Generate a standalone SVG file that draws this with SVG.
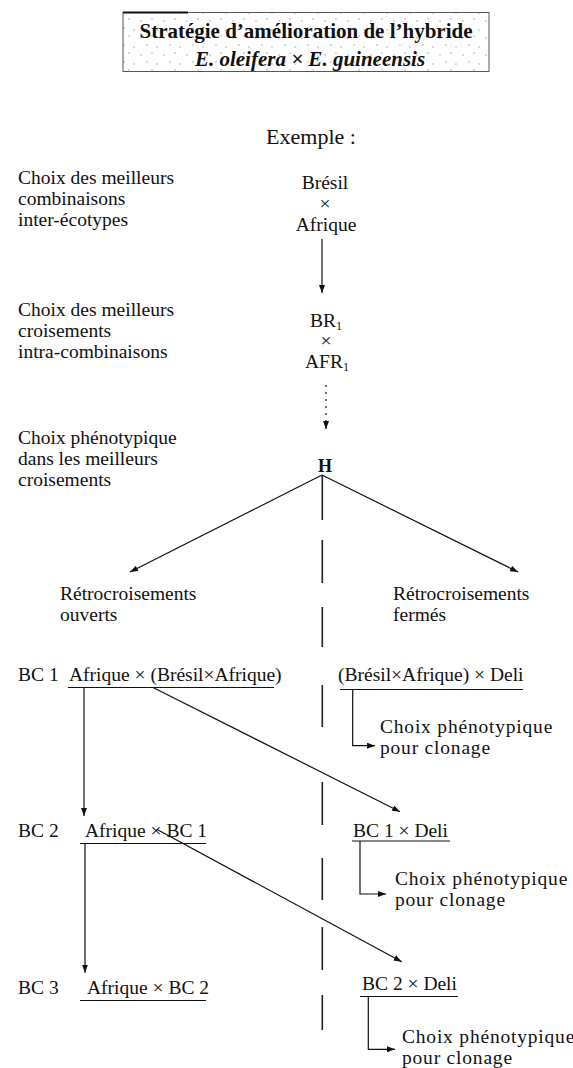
<svg xmlns="http://www.w3.org/2000/svg" width="573" height="1068" viewBox="0 0 573 1068">
<style>
text{font-family:"Liberation Serif","Times New Roman",serif;fill:#111;font-size:19.5px}
.c{text-anchor:middle}
.big{font-size:19.5px;letter-spacing:0.8px}
.ttl{font-weight:bold;font-size:21px;text-anchor:middle}
.it{font-style:italic}
.ln{stroke:#111;stroke-width:1.2;fill:none}
.ar{marker-end:url(#ah)}
.dash{stroke:#222;stroke-width:1.6;fill:none}
</style>
<defs>
<marker id="ah" viewBox="0 0 8 6" refX="8" refY="3" markerWidth="8" markerHeight="6" markerUnits="userSpaceOnUse" orient="auto">
<path d="M0,0 L8,3 L0,6 z" fill="#111"/>
</marker>
<pattern id="spk" width="23" height="17" patternUnits="userSpaceOnUse">
<circle cx="3" cy="4" r="0.7" fill="#999"/>
<circle cx="14" cy="2" r="0.7" fill="#999"/>
<circle cx="9" cy="11" r="0.7" fill="#999"/>
<circle cx="19" cy="13" r="0.7" fill="#999"/>
</pattern>
</defs>

<g id="title">
<rect x="123" y="12.5" width="366" height="59" fill="url(#spk)" stroke="#555" stroke-width="1"/>
<line x1="123" y1="12.5" x2="188" y2="12.5" stroke="#111" stroke-width="2"/>
<text class="ttl" x="306" y="38">Stratégie d’amélioration de l’hybride</text>
<text class="ttl it" x="310" y="66">E. oleifera × E. guineensis</text>
</g>

<g id="exemple"><text class="c" x="311" y="144" style="font-size:22px">Exemple :</text></g>

<g id="label-1">
<text x="18" y="184">Choix des meilleurs</text>
<text x="18" y="205">combinaisons</text>
<text x="18" y="226">inter-écotypes</text>
</g>
<g id="label-2">
<text x="18" y="316">Choix des meilleurs</text>
<text x="18" y="337">croisements</text>
<text x="18" y="358">intra-combinaisons</text>
</g>
<g id="label-3">
<text x="18" y="444">Choix phénotypique</text>
<text x="18" y="465">dans les meilleurs</text>
<text x="18" y="486">croisements</text>
</g>

<g id="node-bresil-afrique">
<text class="c" x="325" y="189">Brésil</text>
<text class="c" x="325" y="210">×</text>
<text class="c" x="326" y="231">Afrique</text>
</g>
<g id="node-br1-afr1">
<text class="c" x="326" y="327">BR<tspan font-size="12" dy="3">1</tspan></text>
<text class="c" x="326" y="347">×</text>
<text class="c" x="327" y="368">AFR<tspan font-size="12" dy="3">1</tspan></text>
</g>
<g id="node-h"><text class="c" x="325" y="472" style="font-weight:bold;font-size:18px">H</text></g>

<g id="node-open">
<text x="60" y="600">Rétrocroisements</text>
<text x="60" y="621">ouverts</text>
</g>
<g id="node-closed">
<text x="393" y="600">Rétrocroisements</text>
<text x="393" y="621">fermés</text>
</g>

<g id="bc-labels">
<text x="18" y="681">BC 1</text>
<text x="18" y="837">BC 2</text>
<text x="18" y="994">BC 3</text>
</g>

<g id="node-bc1-open">
<text x="69" y="681">Afrique × (Brésil×Afrique)</text>
<line class="ln" x1="68" y1="687.5" x2="274" y2="687.5"/>
</g>
<g id="node-bc1-closed">
<text x="338" y="681">(Brésil×Afrique) × Deli</text>
<line class="ln" x1="340" y1="689.5" x2="523" y2="689.5"/>
</g>
<g id="note-1">
<text class="big" x="380" y="733">Choix phénotypique</text>
<text class="big" x="380" y="754">pour clonage</text>
</g>

<g id="node-bc2-open">
<text x="85" y="837">Afrique × BC 1</text>
<line class="ln" x1="80" y1="843.5" x2="206" y2="843.5"/>
</g>
<g id="node-bc2-closed">
<text x="353" y="837">BC 1 × Deli</text>
<line class="ln" x1="352" y1="841" x2="450" y2="841"/>
</g>
<g id="note-2">
<text class="big" x="395" y="885">Choix phénotypique</text>
<text class="big" x="395" y="906">pour clonage</text>
</g>

<g id="node-bc3-open">
<text x="87" y="994">Afrique × BC 2</text>
<line class="ln" x1="80" y1="1000.5" x2="206" y2="1000.5"/>
</g>
<g id="node-bc3-closed">
<text x="362" y="990">BC 2 × Deli</text>
<line class="ln" x1="360" y1="996.5" x2="458" y2="996.5"/>
</g>
<g id="note-3">
<text class="big" x="402" y="1043">Choix phénotypique</text>
<text class="big" x="402" y="1064">pour clonage</text>
</g>

<g id="connectors">
<line class="ln ar" x1="322" y1="239" x2="322" y2="293"/>
<line class="ln ar" x1="326" y1="385" x2="326" y2="429" stroke-dasharray="2,5"/>
<line class="ln ar" x1="322" y1="475" x2="130" y2="572"/>
<line class="ln ar" x1="322" y1="475" x2="518" y2="572"/>
<path class="dash" d="M322.3,475V520M322.3,540V583M322.3,607V647M322.3,685V727M322.3,782V825M322.3,858V900M322.3,927V970M322.3,995V1030"/>
<line class="ln ar" x1="84" y1="688" x2="84" y2="816"/>
<line class="ln ar" x1="153" y1="687.5" x2="400" y2="811.7"/>
<path class="ln ar" d="M352.7,689.5V745.7H375"/>
<line class="ln ar" x1="85" y1="843.5" x2="85" y2="972.7"/>
<line class="ln ar" x1="156.7" y1="829.3" x2="401.7" y2="961.7"/>
<path class="ln ar" d="M360,841V894H386"/>
<path class="ln ar" d="M368.3,996.5V1049.3H395"/>
</g>
</svg>
